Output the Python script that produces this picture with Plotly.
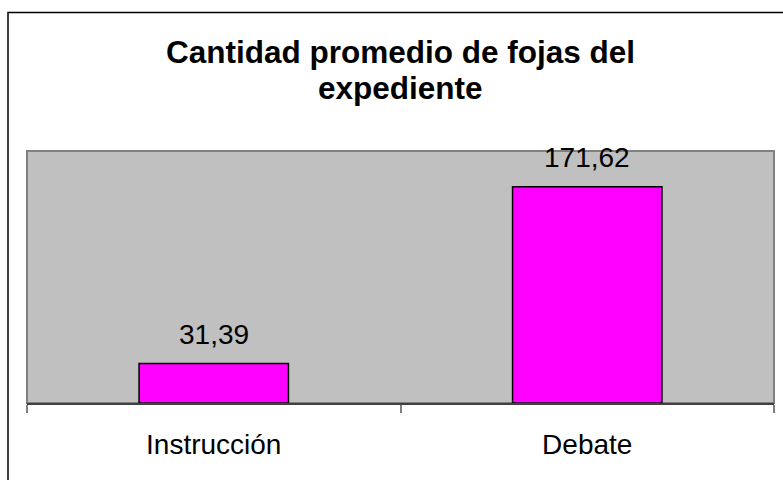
import plotly.graph_objects as go

categories = ["Instrucción", "Debate"]
values = [31.39, 171.62]
value_labels = ["31,39", "171,62"]
title_lines = ["Cantidad promedio de fojas del", "expediente"]

FONT = "Liberation Sans, Arial, sans-serif"

fig = go.Figure()
fig.add_trace(go.Bar(
    x=categories, y=values, width=0.4,
    marker=dict(color="#FF00FF", line=dict(color="#000000", width=1.5)),
    hoverinfo="skip",
))

annotations = []
for c, v, t in zip(categories, values, value_labels):
    annotations.append(dict(x=c, y=v, xref="x", yref="y", text=t, showarrow=False,
                            yanchor="middle", yshift=29,
                            font=dict(family=FONT, size=28, color="#000000")))
for line, shift in zip(title_lines, [99.5, 63.5]):
    annotations.append(dict(x=0.5, y=1, xref="paper", yref="paper", text="<b>%s</b>" % line,
                            showarrow=False, yanchor="middle", yshift=shift,
                            font=dict(family=FONT, size=31.5, color="#000000")))

fig.update_layout(
    width=783, height=480,
    margin=dict(l=27, r=9, t=151, b=77),
    paper_bgcolor="#FFFFFF", plot_bgcolor="#C0C0C0",
    showlegend=False,
    annotations=annotations,
    shapes=[
        dict(type="rect", xref="paper", yref="paper", x0=0, x1=1, y0=0, y1=1,
             line=dict(color="#808080", width=2), layer="below"),
        dict(type="rect", xref="paper", yref="paper",
             x0=(8 - 27) / 747, x1=(795 - 27) / 747,
             y0=(403 - 495) / 252, y1=(403 - 12.5) / 252,
             line=dict(color="#000000", width=1.5)),
    ],
)
fig.update_xaxes(
    type="category", range=[-0.5, 1.5], tickson="boundaries",
    ticks="outside", ticklen=8, tickwidth=1.5, tickcolor="#808080",
    showline=True, linecolor="#404040", linewidth=1.5,
    showgrid=False, zeroline=False,
    tickfont=dict(family=FONT, size=28, color="#000000"),
    ticklabelstandoff=16,
)
fig.update_yaxes(range=[0, 200], visible=False, showgrid=False, zeroline=False)

fig.write_html("out.html", config={"displayModeBar": False},
               post_script="document.body.style.margin='0';document.body.style.padding='0';document.body.style.overflow='hidden';")
